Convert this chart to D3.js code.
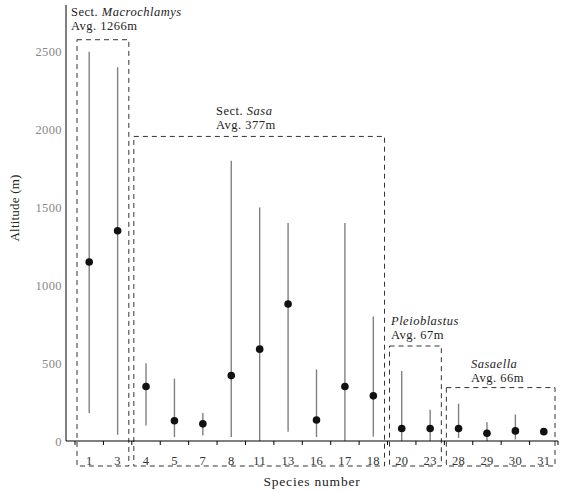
<!DOCTYPE html>
<html>
<head>
<meta charset="utf-8">
<script src="https://cdn.jsdelivr.net/npm/d3@7"></script>
<style>
  body { margin: 0; background: #fff; }
  svg { display: block; }
</style>
</head>
<body>
<svg id="svg" width="562" height="492"></svg>
<script>
// 種の番号
const species = ["1", "3", "4", "5", "7", "8", "11", "13", "16", "17", "18", "20", "23", "28", "29", "30", "31"];
// 標高の範囲（最低・最高）と平均
const altLow = [180, 40, 100, 25, 35, 25, 0, 60, 25, 0, 28, 0, 0, 20, 0, 10, 60];
const altHigh = [2500, 2400, 500, 400, 180, 1800, 1500, 1400, 460, 1400, 800, 450, 200, 240, 120, 170, 60];
const altMean = [1150, 1350, 350, 130, 110, 420, 590, 880, 135, 350, 290, 80, 80, 80, 50, 65, 60];
const yTicks = [0, 500, 1000, 1500, 2000, 2500];

// グループ（節・属）
const groupPrefix = ["Sect. ", "Sect. ", "", ""];
const groupGenus = ["Macrochlamys", "Sasa", "Pleioblastus", "Sasaella"];
const groupAvg = [1266, 377, 67, 66];
const groupFirst = ["1", "4", "20", "28"];
const groupLast = ["3", "18", "23", "31"];
const groupTop = [2577, 1956, 610, 343];

// ラベルの配置（レイアウト用）
const labelX = [71, 216, 391, 471];
const labelY = [16, 115, 325, 368];

const svg = d3.select("#svg");
const mLeft = 66, mTop = 5, mBottom = 441, mRight = 558;
const serif = "Liberation Serif";
const fs = 12.5;

const x = d3.scaleBand().domain(species).range([75, mRight]).padding(0);
const y = d3.scaleLinear().domain([0, 2800]).range([mBottom, mTop]);
const bw = x.bandwidth();

//グループの枠
const boxBottom = 466;
groupGenus.forEach((g, i) => {
  const x0 = x(groupFirst[i]) + 2;
  const x1 = x(groupLast[i]) + bw - 3;
  svg.append("rect")
    .attr("x", x0)
    .attr("y", y(groupTop[i]))
    .attr("width", x1 - x0)
    .attr("height", boxBottom - y(groupTop[i]))
    .attr("fill", "none")
    .attr("stroke", "#333")
    .attr("stroke-width", 1)
    .attr("stroke-dasharray", "5,4");

  const t1 = svg.append("text")
    .attr("x", labelX[i])
    .attr("y", labelY[i])
    .attr("font-family", serif)
    .attr("font-size", fs)
    .attr("letter-spacing", 0.5)
    .attr("fill", "#222");
  if (groupPrefix[i]) t1.append("tspan").text(groupPrefix[i]);
  t1.append("tspan").attr("font-style", "italic").text(groupGenus[i]);

  svg.append("text")
    .attr("x", labelX[i])
    .attr("y", labelY[i] + 14)
    .attr("font-family", serif)
    .attr("font-size", fs)
    .attr("letter-spacing", 0.5)
    .attr("fill", "#222")
    .text("Avg. " + groupAvg[i] + "m");
});

//範囲の線
svg.append("g").selectAll("line")
  .data(species)
  .join("line")
  .attr("x1", (d) => x(d) + bw / 2)
  .attr("x2", (d) => x(d) + bw / 2)
  .attr("y1", (d, i) => y(altLow[i]))
  .attr("y2", (d, i) => y(altHigh[i]))
  .attr("stroke", "#808080")
  .attr("stroke-width", 1.4);

//平均の点
svg.append("g").selectAll("circle")
  .data(species)
  .join("circle")
  .attr("cx", (d) => x(d) + bw / 2)
  .attr("cy", (d, i) => y(altMean[i]))
  .attr("r", 3.8)
  .attr("fill", "#111");

// x軸
const xAxis = svg.append("g")
  .attr("transform", `translate(0,${mBottom})`)
  .call(d3.axisBottom(x).tickSize(0).tickPadding(15));
xAxis.attr("font-family", serif).attr("font-size", fs);
xAxis.select(".domain").remove();
xAxis.selectAll("text").attr("fill", "#333").attr("letter-spacing", 0.3);
svg.append("line")
  .attr("x1", mLeft).attr("x2", mRight)
  .attr("y1", mBottom).attr("y2", mBottom)
  .attr("stroke", "#000");
svg.append("g").selectAll("line")
  .data(species.concat(["end"]))
  .join("line")
  .attr("x1", (d) => (d === "end" ? mRight : x(d)))
  .attr("x2", (d) => (d === "end" ? mRight : x(d)))
  .attr("y1", mBottom)
  .attr("y2", mBottom + 4)
  .attr("stroke", "#000");

// y軸
const yAxis = svg.append("g")
  .attr("transform", `translate(${mLeft},0)`)
  .call(d3.axisLeft(y).tickValues(yTicks).tickFormat(d3.format("d")).tickSize(0).tickPadding(4));
yAxis.attr("font-family", serif).attr("font-size", 12.5);
yAxis.select(".domain").remove();
yAxis.selectAll("text").attr("fill", "#888").attr("letter-spacing", 0.4);
svg.append("line")
  .attr("x1", mLeft).attr("x2", mLeft)
  .attr("y1", mTop).attr("y2", mBottom)
  .attr("stroke", "#000");

// 軸タイトル
svg.append("text")
  .attr("x", (mLeft + mRight) / 2)
  .attr("y", 486)
  .attr("text-anchor", "middle")
  .attr("font-family", serif)
  .attr("font-size", 13.5)
  .attr("letter-spacing", 0.8)
  .attr("fill", "#222")
  .text("Species number");
svg.append("text")
  .attr("transform", "translate(19,208) rotate(-90)")
  .attr("text-anchor", "middle")
  .attr("font-family", serif)
  .attr("font-size", 13)
  .attr("letter-spacing", 0.2)
  .attr("fill", "#222")
  .text("Altitude (m)");
</script>
</body>
</html>
